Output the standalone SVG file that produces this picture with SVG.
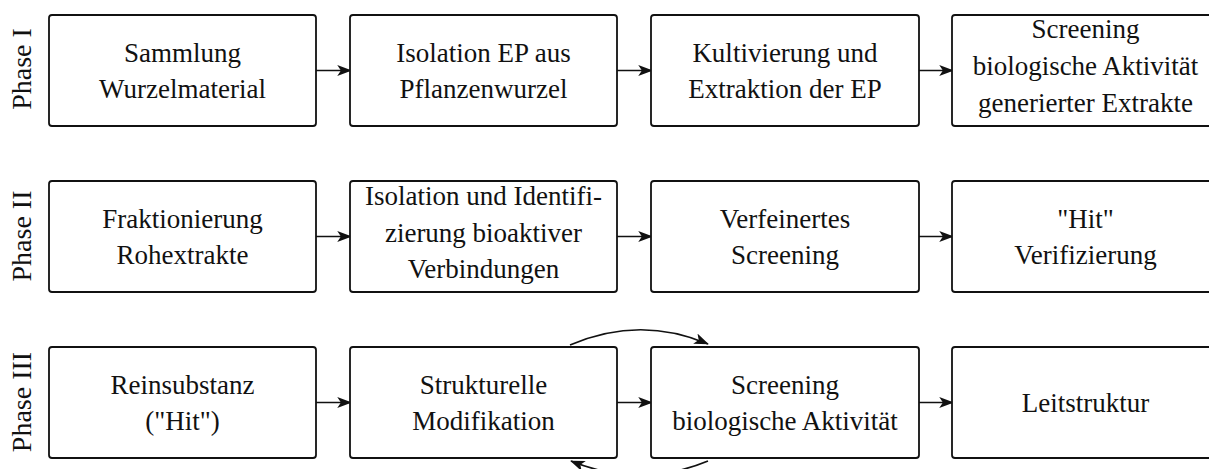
<svg xmlns="http://www.w3.org/2000/svg" width="1209" height="469" viewBox="0 0 1209 469">
<defs>
<style>
.box{fill:#fff;stroke:#111;stroke-width:1.8}
.t{font-family:'Liberation Serif','Times New Roman',serif;font-size:27px;fill:#111;text-anchor:middle}
.ph{font-family:'Liberation Serif','Times New Roman',serif;font-size:28px;fill:#111;text-anchor:middle}
.c{fill:none;stroke:#111;stroke-width:1.6}
</style>
<marker id="ah" viewBox="0 0 16 12" refX="15" refY="6" markerWidth="15" markerHeight="11" markerUnits="userSpaceOnUse" orient="auto">
<path d="M0,0 L16,6 L0,12 L4,6 Z" fill="#111"/>
</marker>
</defs>
<rect width="1209" height="469" fill="#fff"/>
<g id="labels">
<text class="ph" transform="translate(31,69) rotate(-90)">Phase I</text>
<text class="ph" transform="translate(31,236) rotate(-90)">Phase II</text>
<text class="ph" transform="translate(31,402) rotate(-90)">Phase III</text>
</g>
<g id="connectors">
<path class="c" d="M316,70.5 L351,70.5" marker-end="url(#ah)"/>
<path class="c" d="M617,70.5 L652,70.5" marker-end="url(#ah)"/>
<path class="c" d="M919,70.5 L953,70.5" marker-end="url(#ah)"/>
<path class="c" d="M316,236.5 L351,236.5" marker-end="url(#ah)"/>
<path class="c" d="M617,236.5 L652,236.5" marker-end="url(#ah)"/>
<path class="c" d="M919,236.5 L953,236.5" marker-end="url(#ah)"/>
<path class="c" d="M316,402.5 L351,402.5" marker-end="url(#ah)"/>
<path class="c" d="M617,402.5 L652,402.5" marker-end="url(#ah)"/>
<path class="c" d="M919,402.5 L953,402.5" marker-end="url(#ah)"/>
<path class="c" d="M570,345 Q640,315 708,344" marker-end="url(#ah)"/>
<path class="c" d="M708,461 Q640,489 571,461" marker-end="url(#ah)"/>
</g>
<g id="n1"><rect class="box" x="49" y="15" width="267" height="111" rx="3"/><text class="t" x="182.5" y="62">Sammlung</text><text class="t" x="182.5" y="98">Wurzelmaterial</text></g>
<g id="n2"><rect class="box" x="350" y="15" width="267" height="111" rx="3"/><text class="t" x="483.5" y="62">Isolation EP aus</text><text class="t" x="483.5" y="98">Pflanzenwurzel</text></g>
<g id="n3"><rect class="box" x="651" y="15" width="268" height="111" rx="3"/><text class="t" x="785" y="62">Kultivierung und</text><text class="t" x="785" y="98">Extraktion der EP</text></g>
<g id="n4"><rect class="box" x="952" y="15" width="267" height="111" rx="3"/><text class="t" x="1085.5" y="38">Screening</text><text class="t" x="1085.5" y="75">biologische Aktivität</text><text class="t" x="1085.5" y="112">generierter Extrakte</text></g>
<g id="n5"><rect class="box" x="49" y="181" width="267" height="111" rx="3"/><text class="t" x="182.5" y="228">Fraktionierung</text><text class="t" x="182.5" y="264">Rohextrakte</text></g>
<g id="n6"><rect class="box" x="350" y="181" width="267" height="111" rx="3"/><text class="t" x="483.5" y="205">Isolation und Identifi-</text><text class="t" x="483.5" y="242">zierung bioaktiver</text><text class="t" x="483.5" y="278">Verbindungen</text></g>
<g id="n7"><rect class="box" x="651" y="181" width="268" height="111" rx="3"/><text class="t" x="785" y="228">Verfeinertes</text><text class="t" x="785" y="264">Screening</text></g>
<g id="n8"><rect class="box" x="952" y="181" width="267" height="111" rx="3"/><text class="t" x="1085.5" y="228">"Hit"</text><text class="t" x="1085.5" y="264">Verifizierung</text></g>
<g id="n9"><rect class="box" x="49" y="347" width="267" height="111" rx="3"/><text class="t" x="182.5" y="394">Reinsubstanz</text><text class="t" x="182.5" y="430">("Hit")</text></g>
<g id="n10"><rect class="box" x="350" y="347" width="267" height="111" rx="3"/><text class="t" x="483.5" y="394">Strukturelle</text><text class="t" x="483.5" y="430">Modifikation</text></g>
<g id="n11"><rect class="box" x="651" y="347" width="268" height="111" rx="3"/><text class="t" x="785" y="394">Screening</text><text class="t" x="785" y="430">biologische Aktivität</text></g>
<g id="n12"><rect class="box" x="952" y="347" width="267" height="111" rx="3"/><text class="t" x="1085.5" y="412">Leitstruktur</text></g>
</svg>
